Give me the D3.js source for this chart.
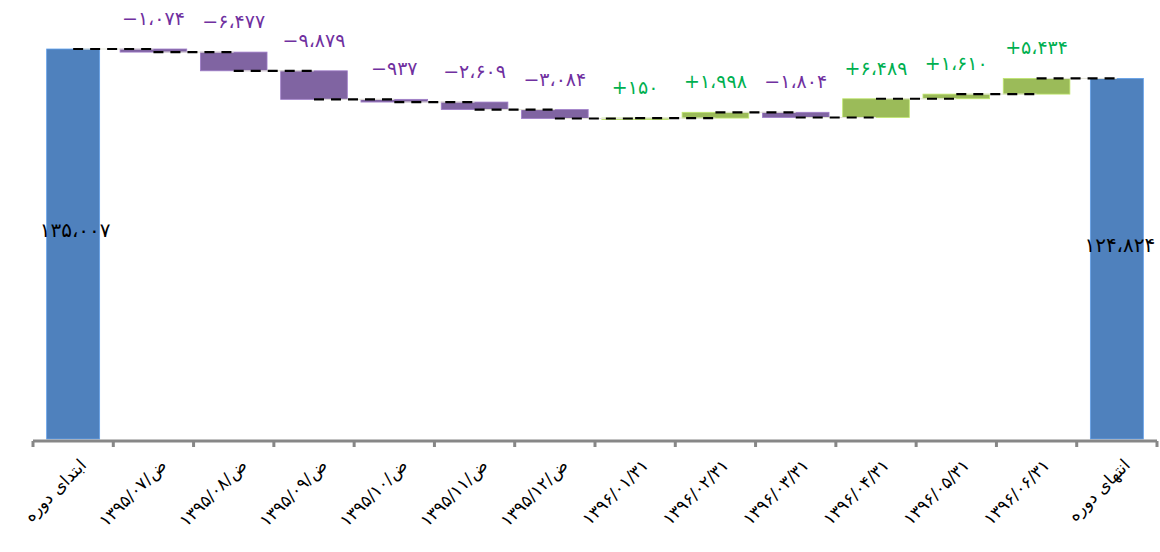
<!DOCTYPE html>
<html>
<head>
<meta charset="utf-8">
<script src="https://cdn.jsdelivr.net/npm/d3@7"></script>
<style>
  body { margin: 0; background: #fff; }
  text { font-family: "DejaVu Sans", sans-serif; }
</style>
</head>
<body>
<div id="chart"></div>
<script>
var categories = ["ابتدای دوره", "۱۳۹۵/۰۷/ض", "۱۳۹۵/۰۸/ض", "۱۳۹۵/۰۹/ض", "۱۳۹۵/۱۰/ض", "۱۳۹۵/۱۱/ض", "۱۳۹۵/۱۲/ض",
  "۱۳۹۶/۰۱/۳۱", "۱۳۹۶/۰۲/۳۱", "۱۳۹۶/۰۳/۳۱", "۱۳۹۶/۰۴/۳۱", "۱۳۹۶/۰۵/۳۱", "۱۳۹۶/۰۶/۳۱", "انتهای دوره"];
var startValue = 135007;
var changes = [-1074, -6477, -9879, -937, -2609, -3084, 150, 1998, -1804, 6489, 1610, 5434];
var endValue = 124824;

var width = 1160, height = 552;

var svg = d3.select("#chart").append("svg")
  .attr("width", width)
  .attr("height", height);

// build waterfall rows
var rows = [];
var running = startValue;
rows.push({ name: categories[0], type: "total", from: 0, to: startValue, level: startValue });
for (var i = 0; i < changes.length; i++) {
  var before = running;
  running = running + changes[i];
  rows.push({ name: categories[i + 1], type: changes[i] < 0 ? "neg" : "pos", from: before, to: running, level: running, delta: changes[i] });
}
rows.push({ name: categories[categories.length - 1], type: "total", from: 0, to: endValue, level: endValue });

var x = d3.scaleBand().domain(categories).range([33, 1157]).padding(0);
var y = d3.scaleLinear().domain([0, startValue]).range([439, 49]);

var colors = { total: "#4F81BD", neg: "#8064A2", pos: "#9BBB59" };
var labelColors = { neg: "#7030A0", pos: "#00B050" };

function persian(s) {
  var fa = "۰۱۲۳۴۵۶۷۸۹";
  return s.replace(/[0-9]/g, function (c) { return fa[+c]; }).replace(/,/g, "،");
}
function fmt(v) {
  var s = persian(d3.format(",")(Math.abs(v)));
  return v < 0 ? "\u2212" + s : "+" + s;
}
function barWidth(d) {
  return x.bandwidth() * (d.type == "total" ? 0.66 : 0.83);
}
function cx(d) {
  return x(d.name) + x.bandwidth() / 2;
}

// bars
svg.append("g").selectAll("rect")
  .data(rows)
  .enter()
  .append("rect")
  .attr("x", function (d) { return cx(d) - barWidth(d) / 2; })
  .attr("width", function (d) { return barWidth(d); })
  .attr("y", function (d) { return y(Math.max(d.from, d.to)); })
  .attr("height", function (d) { return Math.max(1.5, Math.abs(y(d.from) - y(d.to))); })
  .style("fill", function (d) { return colors[d.type]; })
  .style("stroke", function (d) { return d3.color(colors[d.type]).brighter(0.6); })
  .style("stroke-width", 0.8);

// connector segments: level of bar i from centre i to centre i+1
var links = rows.slice(0, -1).map(function (d, i) {
  return { x1: cx(d), x2: cx(rows[i + 1]), level: d.level };
});
var conn = svg.append("g");
conn.selectAll(".under")
  .data(links)
  .enter()
  .append("line")
  .attr("class", "under")
  .attr("x1", function (d) { return d.x1; })
  .attr("x2", function (d) { return d.x2; })
  .attr("y1", function (d) { return y(d.level); })
  .attr("y2", function (d) { return y(d.level); })
  .style("stroke", "#e4e4d8")
  .style("stroke-width", 1);
conn.selectAll(".dash")
  .data(links)
  .enter()
  .append("line")
  .attr("class", "dash")
  .attr("x1", function (d) { return d.x1; })
  .attr("x2", function (d) { return d.x2; })
  .attr("y1", function (d) { return y(d.level); })
  .attr("y2", function (d) { return y(d.level); })
  .style("stroke", "#000")
  .style("stroke-width", 2.2)
  .style("stroke-dasharray", "10,7");

// change labels
svg.append("g").selectAll("text")
  .data(rows.filter(function (d) { return d.type != "total"; }))
  .enter()
  .append("text")
  .attr("x", function (d) { return cx(d); })
  .attr("y", function (d) { return y(Math.max(d.from, d.to)) - 24; })
  .attr("text-anchor", "middle")
  .style("font-size", "19px")
  .style("fill", function (d) { return labelColors[d.type]; })
  .text(function (d) { return fmt(d.delta); });

// total labels
svg.append("g").selectAll("text")
  .data(rows.filter(function (d) { return d.type == "total"; }))
  .enter()
  .append("text")
  .attr("x", function (d, i) { return cx(d) + (i == 0 ? 2 : 3); })
  .attr("y", function (d) { return y(d.to / 2) - 14; })
  .attr("text-anchor", "middle")
  .attr("dy", "0.35em")
  .style("font-size", "20px")
  .style("fill", "#000")
  .text(function (d) { return persian(d3.format(",")(d.to)); });

// x axis
var axis = svg.append("g");
axis.append("line")
  .attr("x1", 33).attr("x2", 1157)
  .attr("y1", 441).attr("y2", 441)
  .style("stroke", "#878787")
  .style("stroke-width", 3);
var tickPos = categories.map(function (c) { return x(c); }).concat([x.range()[1]]);
axis.selectAll(".tick")
  .data(tickPos)
  .enter()
  .append("line")
  .attr("class", "tick")
  .attr("x1", function (d) { return d; })
  .attr("x2", function (d) { return d; })
  .attr("y1", 441).attr("y2", 447)
  .style("stroke", "#878787")
  .style("stroke-width", 3);

axis.selectAll(".lbl")
  .data(categories)
  .enter()
  .append("text")
  .attr("class", "lbl")
  .attr("transform", function (d) {
    return "translate(" + (x(d) + x.bandwidth() / 2 + 10) + ",462) rotate(-45)";
  })
  .attr("text-anchor", "end")
  .attr("dy", "0.35em")
  .style("font-size", "17px")
  .style("fill", "#000")
  .text(function (d) { return d; });
</script>
</body>
</html>
